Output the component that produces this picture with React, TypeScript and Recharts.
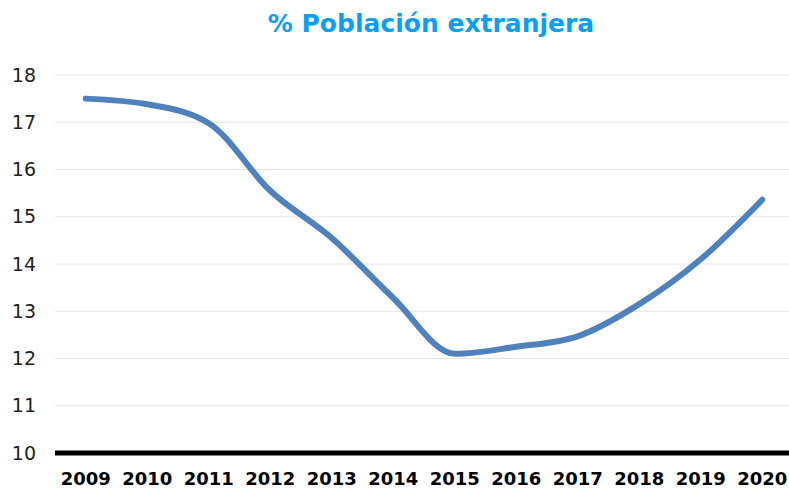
import { LineChart, Line, XAxis, YAxis, CartesianGrid } from 'recharts'

const years = ['2009', '2010', '2011', '2012', '2013', '2014', '2015', '2016', '2017', '2018', '2019', '2020']
const foreignPct = [17.5, 17.38, 16.98, 15.55, 14.55, 13.28, 12.1, 12.25, 12.47, 13.15, 14.1, 15.36]
const yTicks = [10, 11, 12, 13, 14, 15, 16, 17, 18]

const data = years.map((year, i) => ({ year, value: foreignPct[i] }))

const App = () => {
    return (
        <div style={{ position: 'fixed', top: 0, left: 0, width: 789, height: 491, background: '#fff', overflow: 'hidden' }}>
            <div
                style={{
                    position: 'absolute',
                    top: 9,
                    left: 0,
                    width: 862,
                    textAlign: 'center',
                    fontFamily: '"DejaVu Sans", sans-serif',
                    fontWeight: 'bold',
                    fontSize: 25,
                    color: '#0A9EF5'
                }}
            >
                % Población extranjera
            </div>
            <LineChart width={789} height={491} data={data} margin={{ top: 75, right: -4, bottom: 0, left: 0 }}>
                <CartesianGrid vertical={false} stroke="#E4E4E4" strokeWidth={1} />
                <XAxis
                    dataKey="year"
                    scale="band"
                    height={38}
                    axisLine={{ stroke: '#000', strokeWidth: 5 }}
                    tickLine={false}
                    tickMargin={13}
                    interval={0}
                    tick={{ fill: '#000', fontSize: 18, fontWeight: 'bold', fontFamily: '"DejaVu Sans", sans-serif' }}
                />
                <YAxis
                    width={55}
                    domain={[10, 18]}
                    ticks={yTicks}
                    axisLine={false}
                    tickLine={false}
                    tickMargin={13}
                    tick={{ fill: '#222', fontSize: 19, fontFamily: '"DejaVu Sans", sans-serif' }}
                />
                <Line
                    type="monotone"
                    dataKey="value"
                    stroke="#4F81BD"
                    strokeWidth={6}
                    strokeLinecap="round"
                    dot={false}
                    isAnimationActive={false}
                />
            </LineChart>
        </div>
    )
}

export default App
